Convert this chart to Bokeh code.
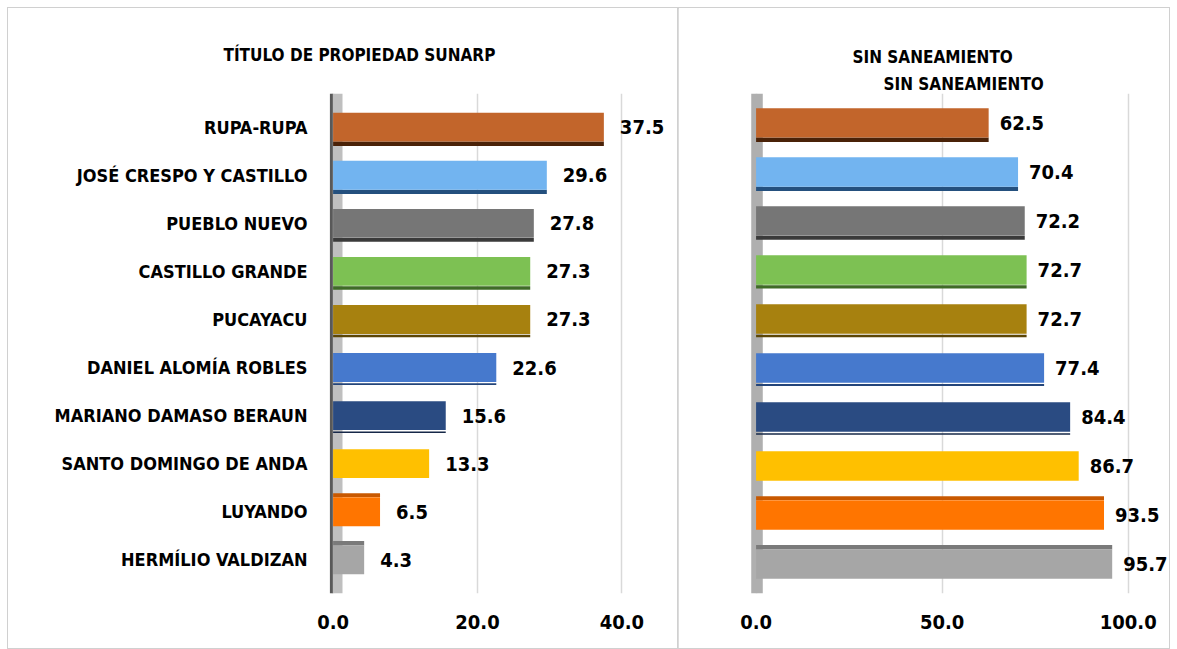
from bokeh.plotting import figure
from bokeh.models import (FactorRange, Range1d, FixedTicker, NumeralTickFormatter,
                          Title, ColumnDataSource, BoxAnnotation, Span)
from bokeh.transform import dodge
from bokeh.layouts import row
from bokeh.embed import file_html
from bokeh.resources import INLINE
from bokeh.core.properties import value

# ---------------- data ----------------
districts = ["RUPA-RUPA", "JOSÉ CRESPO Y CASTILLO", "PUEBLO NUEVO", "CASTILLO GRANDE",
             "PUCAYACU", "DANIEL ALOMÍA ROBLES", "MARIANO DAMASO BERAUN",
             "SANTO DOMINGO DE ANDA", "LUYANDO", "HERMÍLIO VALDIZAN"]
titulo_sunarp = [37.5, 29.6, 27.8, 27.3, 27.3, 22.6, 15.6, 13.3, 6.5, 4.3]
sin_saneamiento = [62.5, 70.4, 72.2, 72.7, 72.7, 77.4, 84.4, 86.7, 93.5, 95.7]
left_ticks = [0, 20, 40]
right_ticks = [0, 50, 100]
title_left = "TÍTULO DE PROPIEDAD SUNARP"
title_right = "SIN SANEAMIENTO"

# ---------------- style ----------------
FONT = "DejaVu Sans Condensed, DejaVu Sans"
TXT = "18px"
TTL = "17px"
NUM = "20px"
face_colors = ["#C2652B", "#72B4F0", "#767676", "#7DC153", "#A7810F",
               "#4679CD", "#2A4B82", "#FFC000", "#FF7500", "#A6A6A6"]
edge_colors = ["#4A2208", "#24507E", "#3A3A3A", "#3F6B27", "#5C4605",
               "#24457A", "#162848", "#C08F00", "#C85800", "#7A7A7A"]
# positive: dark face below the bar, negative: dark face above (3-D perspective)
edge_depth = [0.09, 0.09, 0.08, 0.07, 0.05, 0.04, 0.03, 0.0, -0.08, -0.09]
BAR_H = 0.6


def make_source(vals):
    below = [d if d > 0 else 0 for d in edge_depth]
    above = [-d if d < 0 else 0 for d in edge_depth]
    return ColumnDataSource(dict(
        cat=districts, val=vals, face=face_colors, edge=edge_colors,
        lbl=[f"{v:.1f}" for v in vals],
        below_h=below, above_h=above,
    ))


def style_common(p, ticks):
    p.xaxis.ticker = FixedTicker(ticks=ticks)
    p.xaxis.formatter = NumeralTickFormatter(format="0.0")
    p.xaxis.axis_line_color = None
    p.xaxis.major_tick_line_color = None
    p.xaxis.minor_tick_line_color = None
    p.xaxis.major_tick_out = 0
    p.xaxis.major_tick_in = 0
    p.xaxis.minor_tick_out = 0
    p.xaxis.major_label_text_font = FONT
    p.xaxis.major_label_text_font_style = "bold"
    p.xaxis.major_label_text_font_size = NUM
    p.xaxis.major_label_text_color = "#000000"
    p.xaxis.major_label_standoff = 21
    p.ygrid.grid_line_color = None
    p.xgrid.grid_line_color = "#D9D9D9"
    p.xgrid.grid_line_width = 1.5
    p.outline_line_color = None
    p.background_fill_color = "white"
    p.border_fill_color = "white"


def title(text, offset, standoff, size=TTL):
    return Title(text=text, align="left", offset=offset, standoff=standoff,
                 text_font=FONT, text_font_style="bold", text_font_size=size,
                 text_color="#000000")


def draw_bars(p, src, label_offset):
    # dark 3-D edges
    p.hbar(y=dodge("cat", -BAR_H / 2 - 0.045, range=p.y_range), left=0, right="val",
           height="below_h", fill_color="edge", line_color=None, source=src)
    p.hbar(y=dodge("cat", BAR_H / 2 + 0.045, range=p.y_range), left=0, right="val",
           height="above_h", fill_color="edge", line_color=None, source=src)
    # faces
    p.hbar(y="cat", left=0, right="val", height=BAR_H, fill_color="face",
           line_color=None, source=src)
    # value labels
    p.text(x="val", y="cat", text="lbl", x_offset=label_offset, source=src,
           text_font=value(FONT), text_font_style="bold", text_font_size=NUM,
           text_baseline="middle", text_align="left", text_color="#000000")


# ---------------- left panel ----------------
pL = figure(width=670, height=640,
            y_range=FactorRange(factors=districts[::-1], range_padding=0.2,
                                range_padding_units="absolute", factor_padding=0),
            x_range=Range1d(-0.5, 47.56),
            output_backend="svg", toolbar_location=None,
            min_border_left=321, min_border_right=2, min_border_top=85,
            min_border_bottom=55,
            styles={"box-shadow": "0 0 0 1px #D0D0D0"})
style_common(pL, left_ticks)
pL.yaxis.axis_line_color = None
pL.yaxis.major_tick_line_color = None
pL.yaxis.minor_tick_line_color = None
pL.yaxis.major_tick_out = 0
pL.yaxis.major_tick_in = 0
pL.yaxis.major_label_text_font = FONT
pL.yaxis.major_label_text_font_style = "bold"
pL.yaxis.major_label_text_font_size = TXT
pL.yaxis.major_label_text_color = "#000000"
pL.yaxis.major_label_standoff = 22

pL.add_layout(BoxAnnotation(left=-0.2, right=1.3, fill_color="#BFBFBF", fill_alpha=1.0,
                            line_color=None, level="underlay"))
pL.add_layout(Span(location=-0.25, dimension="height", line_color="#595959",
                   line_width=3, level="underlay"))
draw_bars(pL, make_source(titulo_sunarp), 16)

# spacer keeps the title at its height above the plot
pL.add_layout(title(" ", 0, 7), "above")
pL.add_layout(title(title_left, -106, 0), "above")

# ---------------- right panel ----------------
pR = figure(width=491, height=640,
            y_range=FactorRange(factors=districts[::-1], range_padding=0.1,
                                range_padding_units="absolute", factor_padding=0),
            x_range=Range1d(-1.5, 111.1),
            output_backend="svg", toolbar_location=None,
            min_border_left=72, min_border_right=0, min_border_top=82,
            min_border_bottom=55,
            styles={"box-shadow": "0 0 0 1px #D0D0D0"})
style_common(pR, right_ticks)
pR.yaxis.visible = False
pR.add_layout(BoxAnnotation(left=-1.3, right=1.8, fill_color="#AFAFAF", fill_alpha=1.0,
                            line_color=None, level="underlay"))
draw_bars(pR, make_source(sin_saneamiento), 11)

pR.add_layout(title(title_right, 133, 0), "above")
pR.add_layout(title(title_right, 102, 9), "above")

layout = row(pL, pR)
layout.margin = (8, 0, 0, 8)
open("out.html", "w").write(file_html(layout, INLINE))
